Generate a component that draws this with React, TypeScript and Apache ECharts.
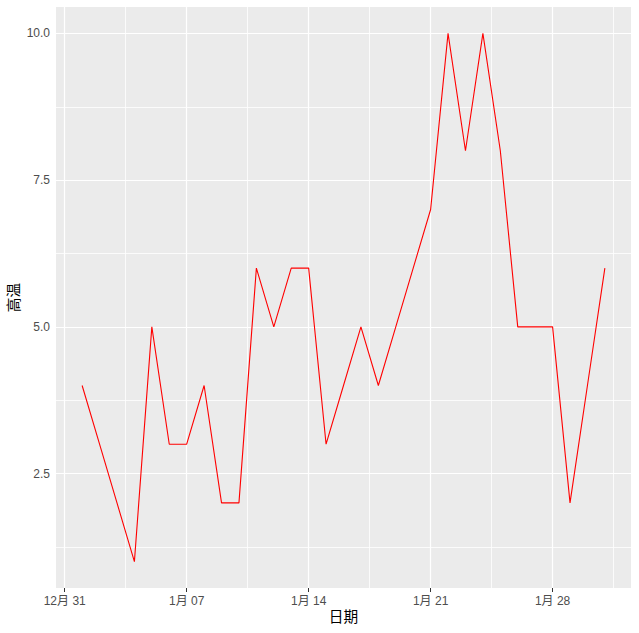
import React, { useEffect, useRef } from "react";
import * as echarts from "echarts";

// day index: 0 = 12月31, 1 = 1月01 ...
const days = Array.from({ length: 31 }, (_, i) => i + 1);
const highs = [4, 3, 2, 1, 5, 3, 3, 4, 2, 2, 6, 5, 6, 6, 3, 4, 5, 4, 5, 6, 7, 10, 8, 10, 8, 5, 5, 5, 2, 4, 6];
const xTickValues = [0, 7, 14, 21, 28];
const xTickLabels = ["12月 31", "1月 07", "1月 14", "1月 21", "1月 28"];
const xMinor = [3.5, 10.5, 17.5, 24.5, 31.5];
const yTickValues = [2.5, 5, 7.5, 10];
const yMinor = [1.25, 3.75, 6.25, 8.75];

const FONT = "'Liberation Sans', Arial, 'Noto Sans CJK SC', sans-serif";

export default function App() {
  const ref = useRef<HTMLDivElement>(null);
  useEffect(() => {
    if (!ref.current) return;
    const chart = echarts.init(ref.current, undefined, { renderer: "svg" });
    const gridLine = (vals: number[], axis: "xAxis" | "yAxis") => vals.map((v) => ({ [axis]: v }));
    chart.setOption({
      animation: false,
      backgroundColor: "#ffffff",
      grid: {
        left: 56,
        right: 8,
        top: 7,
        bottom: 45,
        show: true,
        backgroundColor: "#EBEBEB",
        borderWidth: 0,
        containLabel: false,
        outerBoundsMode: "none",
      },
      xAxis: {
        type: "value",
        min: -0.5,
        max: 32.5,
        axisLine: { show: false },
        splitLine: { show: false },
        axisTick: { show: true, length: 4, lineStyle: { color: "#333333", width: 1 }, customValues: xTickValues },
        axisLabel: {
          customValues: xTickValues,
          color: "#4D4D4D",
          fontSize: 12,
          fontFamily: FONT,
          margin: 7,
          formatter: (v: number) => {
            const i = xTickValues.indexOf(Math.round(v));
            return i >= 0 ? xTickLabels[i] : "";
          },
        },
        name: "日期",
        nameLocation: "middle",
        nameGap: 22,
        nameMoveOverlap: false,
        nameTextStyle: { color: "#000", fontSize: 14.7, fontFamily: FONT },
      },
      yAxis: {
        type: "value",
        min: 0.55,
        max: 10.45,
        axisLine: { show: false },
        splitLine: { show: false },
        axisTick: { show: true, length: 4, lineStyle: { color: "#333333", width: 1 }, customValues: yTickValues },
        axisLabel: {
          customValues: yTickValues,
          color: "#4D4D4D",
          fontSize: 12,
          fontFamily: FONT,
          margin: 6,
          formatter: (v: number) => v.toFixed(1),
        },
        name: "高温",
        nameLocation: "middle",
        nameGap: 35,
        nameMoveOverlap: false,
        nameTextStyle: { color: "#000", fontSize: 14.7, fontFamily: FONT },
      },
      series: [
        {
          type: "line",
          data: [],
          z: 1,
          silent: true,
          markLine: {
            silent: true,
            symbol: ["none", "none"],
            label: { show: false },
            lineStyle: { color: "#ffffff", width: 0.8, type: "solid" },
            data: [...gridLine(xMinor, "xAxis"), ...gridLine(yMinor, "yAxis")],
          },
        },
        {
          type: "line",
          data: [],
          z: 2,
          silent: true,
          markLine: {
            silent: true,
            symbol: ["none", "none"],
            label: { show: false },
            lineStyle: { color: "#ffffff", width: 1.2, type: "solid" },
            data: [...gridLine(xTickValues, "xAxis"), ...gridLine(yTickValues, "yAxis")],
          },
        },
        {
          type: "line",
          z: 5,
          data: days.map((d, i) => [d, highs[i]]),
          showSymbol: false,
          symbol: "none",
          lineStyle: { color: "#FF0000", width: 1.1 },
        },
      ],
    });
    return () => chart.dispose();
  }, []);
  return <div ref={ref} style={{ position: "fixed", left: 0, top: 0, width: 639, height: 633 }} />;
}
